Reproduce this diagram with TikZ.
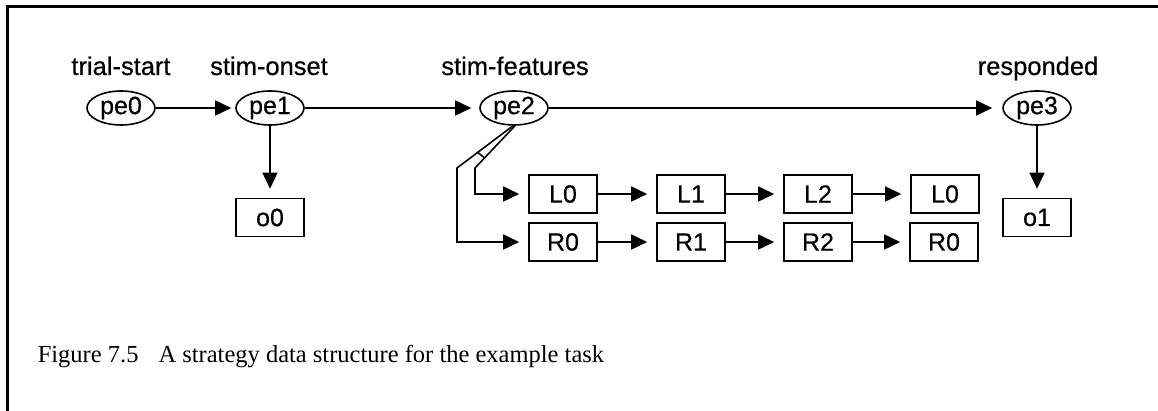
\documentclass[tikz,border=0pt]{standalone}
\usepackage{fontspec}
\setmainfont{Liberation Serif}
\newfontfamily\lblfont[FakeBold=0.5]{Liberation Sans}
\usetikzlibrary{arrows.meta,calc,shapes.geometric}
\begin{document}
\begin{tikzpicture}[x=1pt,y=-1pt,
  line width=1.6pt,
  lab/.style={font=\lblfont\fontsize{25.5}{28}\selectfont, anchor=base, inner sep=0pt},
  ev/.style={draw, ellipse, minimum width=68pt, minimum height=34pt, inner sep=0pt, font=\lblfont\fontsize{25}{28}\selectfont},
  bx/.style={draw, rectangle, minimum width=68pt, minimum height=38pt, inner sep=0pt, font=\lblfont\fontsize{25}{28}\selectfont},
  arr/.style={-{Triangle[length=16pt,width=15pt]}, shorten >=9pt}
]
\useasboundingbox (0,0) rectangle (1158,411);
\draw[line width=3pt] (7.5,411) -- (7.5,6.5) -- (1158,6.5);

\node[lab] (t0) at (121,75) {trial-start};
\node[lab] (t1) at (269,75) {stim-onset};
\node[lab] (t2) at (515,75) {stim-features};
\node[lab] (t3) at (1038,75) {responded};

\node[ev] (pe0) at (121,108) {pe0};
\node[ev] (pe1) at (270,108) {pe1};
\node[ev] (pe2) at (514,108) {pe2};
\node[ev] (pe3) at (1037,108) {pe3};

\node[bx] (o0) at (270,217.5) {o0};
\node[bx] (o1) at (1037,217.5) {o1};

\node[bx] (L0) at (563,194) {L0};
\node[bx] (L1) at (691,194) {L1};
\node[bx] (L2) at (818,194) {L2};
\node[bx] (L3) at (945,194) {L0};
\node[bx] (R0) at (563,242) {R0};
\node[bx] (R1) at (691,242) {R1};
\node[bx] (R2) at (818,242) {R2};
\node[bx] (R3) at (944,242) {R0};

\draw[arr, shorten >=4pt] (pe0) -- (pe1);
\draw[arr, shorten >=8pt] (pe1) -- (pe2);
\draw[arr, shorten >=10pt] (pe2) -- (pe3);
\draw[arr] (pe1) -- (o0);
\draw[arr] (pe3) -- (o1);

\draw[arr] (L0) -- (L1);
\draw[arr] (L1) -- (L2);
\draw[arr] (L2) -- (L3);
\draw[arr] (R0) -- (R1);
\draw[arr] (R1) -- (R2);
\draw[arr] (R2) -- (R3);

\coordinate (so) at ([xshift=-1pt]pe2.south);
\coordinate (si) at ([xshift=1pt]pe2.south);
\coordinate (bo) at (457,168);
\coordinate (bi) at (475,168);
\draw[arr] (so) -- (bo) |- (R0.west);
\draw[arr] (si) -- (bi) |- (L0.west);
\draw ($(so)!0.63!(bo)$) -- ($(si)!0.76!(bi)$);

\node[anchor=base west, inner sep=0pt, font=\fontsize{24.5}{28}\selectfont] (cap) at (37,362) {Figure 7.5\hspace{20pt}A strategy data structure for the example task};
\end{tikzpicture}
\end{document}
